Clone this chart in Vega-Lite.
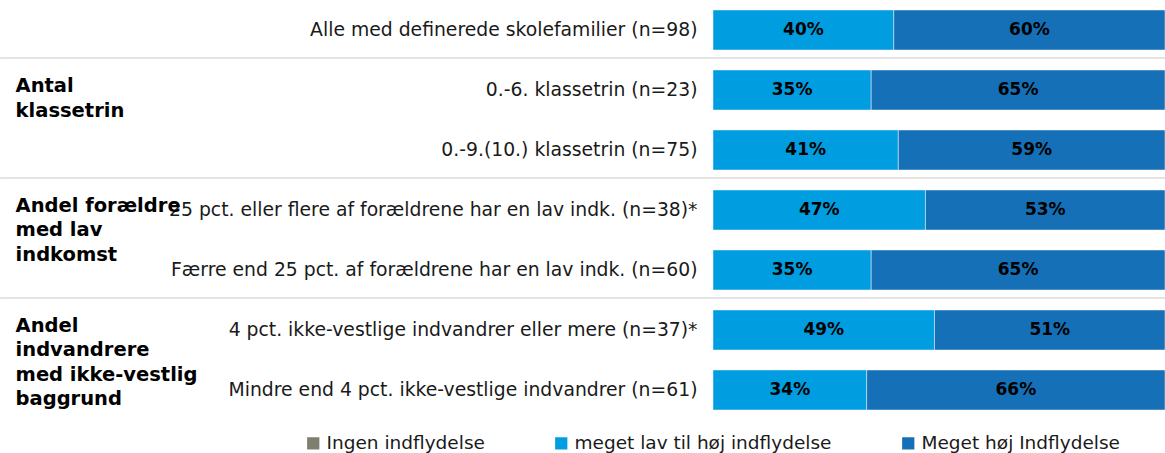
{
  "$schema": "https://vega.github.io/schema/vega-lite/v6.json",
  "width": 452,
  "height": 420,
  "autosize": {"type": "none"},
  "padding": {"left": 713, "top": 0, "right": 0, "bottom": 33},
  "background": "#ffffff",
  "config": {
    "view": {"stroke": null},
    "font": "DejaVu Sans"
  },
  "datasets": {
    "rows": [
      {"label": "Alle med definerede skolefamilier (n=98)", "cat": "meget lav til høj indflydelse", "value": 40},
      {"label": "Alle med definerede skolefamilier (n=98)", "cat": "Meget høj Indflydelse", "value": 60},
      {"label": "0.-6. klassetrin (n=23)", "cat": "meget lav til høj indflydelse", "value": 35},
      {"label": "0.-6. klassetrin (n=23)", "cat": "Meget høj Indflydelse", "value": 65},
      {"label": "0.-9.(10.) klassetrin (n=75)", "cat": "meget lav til høj indflydelse", "value": 41},
      {"label": "0.-9.(10.) klassetrin (n=75)", "cat": "Meget høj Indflydelse", "value": 59},
      {"label": "25 pct. eller flere af forældrene har en lav indk. (n=38)*", "cat": "meget lav til høj indflydelse", "value": 47},
      {"label": "25 pct. eller flere af forældrene har en lav indk. (n=38)*", "cat": "Meget høj Indflydelse", "value": 53},
      {"label": "Færre end 25 pct. af forældrene har en lav indk. (n=60)", "cat": "meget lav til høj indflydelse", "value": 35},
      {"label": "Færre end 25 pct. af forældrene har en lav indk. (n=60)", "cat": "Meget høj Indflydelse", "value": 65},
      {"label": "4 pct. ikke-vestlige indvandrer eller mere (n=37)*", "cat": "meget lav til høj indflydelse", "value": 49},
      {"label": "4 pct. ikke-vestlige indvandrer eller mere (n=37)*", "cat": "Meget høj Indflydelse", "value": 51},
      {"label": "Mindre end 4 pct. ikke-vestlige indvandrer (n=61)", "cat": "meget lav til høj indflydelse", "value": 34},
      {"label": "Mindre end 4 pct. ikke-vestlige indvandrer (n=61)", "cat": "Meget høj Indflydelse", "value": 66}
    ],
    "groups": [
      {"label": "0.-6. klassetrin (n=23)", "group": "Antal\nklassetrin"},
      {"label": "25 pct. eller flere af forældrene har en lav indk. (n=38)*", "group": "Andel forældre\nmed lav\nindkomst"},
      {"label": "4 pct. ikke-vestlige indvandrer eller mere (n=37)*", "group": "Andel\nindvandrere\nmed ikke-vestlig\nbaggrund"}
    ],
    "seps": [
      {"label": "0.-6. klassetrin (n=23)"},
      {"label": "25 pct. eller flere af forældrene har en lav indk. (n=38)*"},
      {"label": "4 pct. ikke-vestlige indvandrer eller mere (n=37)*"}
    ]
  },
  "layer": [
    {
      "data": {"name": "seps"},
      "mark": {"type": "rule", "color": "#e4e4e4", "strokeWidth": 2, "clip": false},
      "encoding": {
        "y": {"field": "label", "type": "nominal", "bandPosition": -0.3},
        "x": {"datum": -157.7, "type": "quantitative"},
        "x2": {"datum": 100}
      }
    },
    {
      "data": {"name": "rows"},
      "transform": [
        {"calculate": "indexof(['Ingen indflydelse','meget lav til høj indflydelse','Meget høj Indflydelse'], datum.cat)", "as": "ord"},
        {"stack": "value", "groupby": ["label"], "sort": [{"field": "ord", "order": "ascending"}], "as": ["v0", "v1"]},
        {"calculate": "(datum.v0 + datum.v1) / 2", "as": "mid"},
        {"calculate": "datum.value + '%'", "as": "pct"}
      ],
      "layer": [
        {
          "mark": {"type": "bar", "stroke": "#ffffff", "strokeOpacity": 0.45, "strokeWidth": 1},
          "encoding": {
            "y": {"field": "label", "type": "nominal"},
            "x": {"field": "v0", "type": "quantitative"},
            "x2": {"field": "v1"},
            "color": {
              "field": "cat",
              "type": "nominal",
              "scale": {
                "domain": ["Ingen indflydelse", "meget lav til høj indflydelse", "Meget høj Indflydelse"],
                "range": ["#7f7f6f", "#009ee0", "#1570b7"]
              },
              "legend": {
                "title": null,
                "orient": "none",
                "legendX": -409,
                "legendY": 434,
                "direction": "horizontal",
                "symbolType": "square",
                "symbolSize": 150,
                "symbolStrokeWidth": 0,
                "labelFont": "DejaVu Sans",
                "labelFontSize": 18.5,
                "labelColor": "#1a1a1a",
                "labelOffset": 4,
                "columnPadding": 67,
                "labelLimit": 400
              }
            }
          }
        },
        {
          "mark": {"type": "text", "fontWeight": "bold", "fontSize": 17, "color": "#000000", "font": "DejaVu Sans"},
          "encoding": {
            "y": {"field": "label", "type": "nominal"},
            "x": {"field": "mid", "type": "quantitative"},
            "text": {"field": "pct"}
          }
        }
      ]
    },
    {
      "data": {"name": "groups"},
      "mark": {"type": "text", "align": "left", "baseline": "middle", "fontWeight": "bold", "fontSize": 19.5, "lineHeight": 24.5, "lineBreak": "\n", "color": "#000000", "clip": false, "font": "DejaVu Sans"},
      "encoding": {
        "y": {"field": "label", "type": "nominal", "bandPosition": 0.4},
        "x": {"datum": -154.3, "type": "quantitative"},
        "text": {"field": "group"}
      }
    }
  ],
  "encoding": {
    "y": {
      "field": "label",
      "type": "nominal",
      "scale": {
        "domain": [
          "Alle med definerede skolefamilier (n=98)",
          "0.-6. klassetrin (n=23)",
          "0.-9.(10.) klassetrin (n=75)",
          "25 pct. eller flere af forældrene har en lav indk. (n=38)*",
          "Færre end 25 pct. af forældrene har en lav indk. (n=60)",
          "4 pct. ikke-vestlige indvandrer eller mere (n=37)*",
          "Mindre end 4 pct. ikke-vestlige indvandrer (n=61)"
        ],
        "paddingInner": 0.3333,
        "paddingOuter": 0.1667
      },
      "axis": {
        "title": null,
        "domain": false,
        "ticks": false,
        "labelPadding": 16,
        "labelFont": "DejaVu Sans",
        "labelFontSize": 18.8,
        "labelColor": "#1a1a1a",
        "labelLimit": 0
      }
    },
    "x": {
      "type": "quantitative",
      "scale": {"domain": [0, 100], "nice": false, "zero": false},
      "axis": null
    }
  },
  "resolve": {"axis": {"y": "shared"}}
}
